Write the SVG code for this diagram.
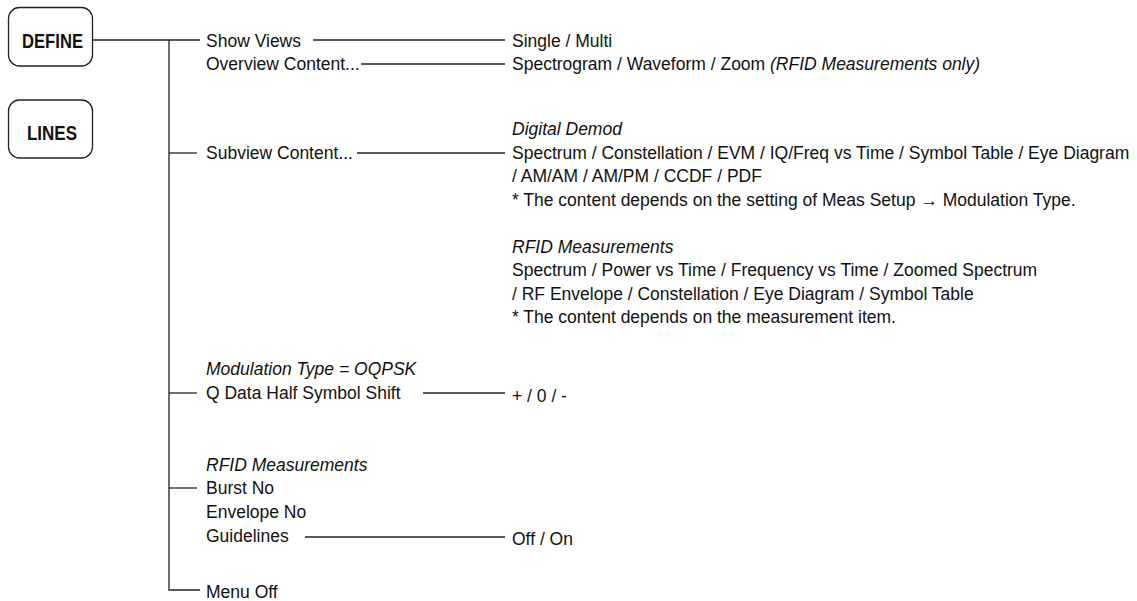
<svg xmlns="http://www.w3.org/2000/svg" width="1137" height="601" viewBox="0 0 1137 601">
<style>
.t{font-family:"Liberation Sans",Arial,sans-serif;font-size:17.5px;fill:#111}
.i{font-style:italic}
.k{font-family:"Liberation Sans",Arial,sans-serif;font-size:21px;font-weight:bold;fill:#111}
.box{fill:#fff;stroke:#222;stroke-width:1.3}
.ln{stroke:#222;stroke-width:1.3;fill:none}
</style>
<rect width="1137" height="601" fill="#fff"/>
<g id="key-define">
<rect class="box" x="8.5" y="7.5" width="84" height="58.5" rx="11"/>
<text class="k" x="22" y="47.5" textLength="61" lengthAdjust="spacingAndGlyphs">DEFINE</text>
</g>
<g id="key-lines">
<rect class="box" x="8.5" y="100" width="84" height="58" rx="11"/>
<text class="k" x="27" y="139.5" textLength="50" lengthAdjust="spacingAndGlyphs">LINES</text>
</g>
<g id="connectors">
<path class="ln" d="M92.5 40H200"/>
<path class="ln" d="M169 40V590H200"/>
<path class="ln" d="M169 153H197"/>
<path class="ln" d="M169 393H197"/>
<path class="ln" d="M169 488H197"/>
<path class="ln" d="M313 40H505"/>
<path class="ln" d="M361 64H505"/>
<path class="ln" d="M357 153H505"/>
<path class="ln" d="M423 393H505"/>
<path class="ln" d="M305 537H505"/>
</g>
<g id="menu-items">
<text class="t" x="206" y="47">Show Views</text>
<text class="t" x="206" y="70">Overview Content...</text>
<text class="t" x="206" y="159">Subview Content...</text>
<text class="t i" x="206" y="375">Modulation Type = OQPSK</text>
<text class="t" x="206" y="399">Q Data Half Symbol Shift</text>
<text class="t i" x="206" y="471">RFID Measurements</text>
<text class="t" x="206" y="494">Burst No</text>
<text class="t" x="206" y="518">Envelope No</text>
<text class="t" x="206" y="542">Guidelines</text>
<text class="t" x="206" y="598">Menu Off</text>
</g>
<g id="settings">
<text class="t" x="512" y="47">Single / Multi</text>
<text class="t" x="512" y="70">Spectrogram / Waveform / Zoom <tspan class="i">(RFID Measurements only)</tspan></text>
<text class="t i" x="512" y="135">Digital Demod</text>
<text class="t" x="512" y="159">Spectrum / Constellation / EVM / IQ/Freq vs Time / Symbol Table / Eye Diagram</text>
<text class="t" x="512" y="182">/ AM/AM / AM/PM / CCDF / PDF</text>
<text class="t" x="512" y="206">* The content depends on the setting of Meas Setup → Modulation Type.</text>
<text class="t i" x="512" y="253">RFID Measurements</text>
<text class="t" x="512" y="276">Spectrum / Power vs Time / Frequency vs Time / Zoomed Spectrum</text>
<text class="t" x="512" y="300">/ RF Envelope / Constellation / Eye Diagram / Symbol Table</text>
<text class="t" x="512" y="323">* The content depends on the measurement item.</text>
<text class="t" x="512" y="402">+ / 0 / -</text>
<text class="t" x="512" y="545">Off / On</text>
</g>
</svg>
